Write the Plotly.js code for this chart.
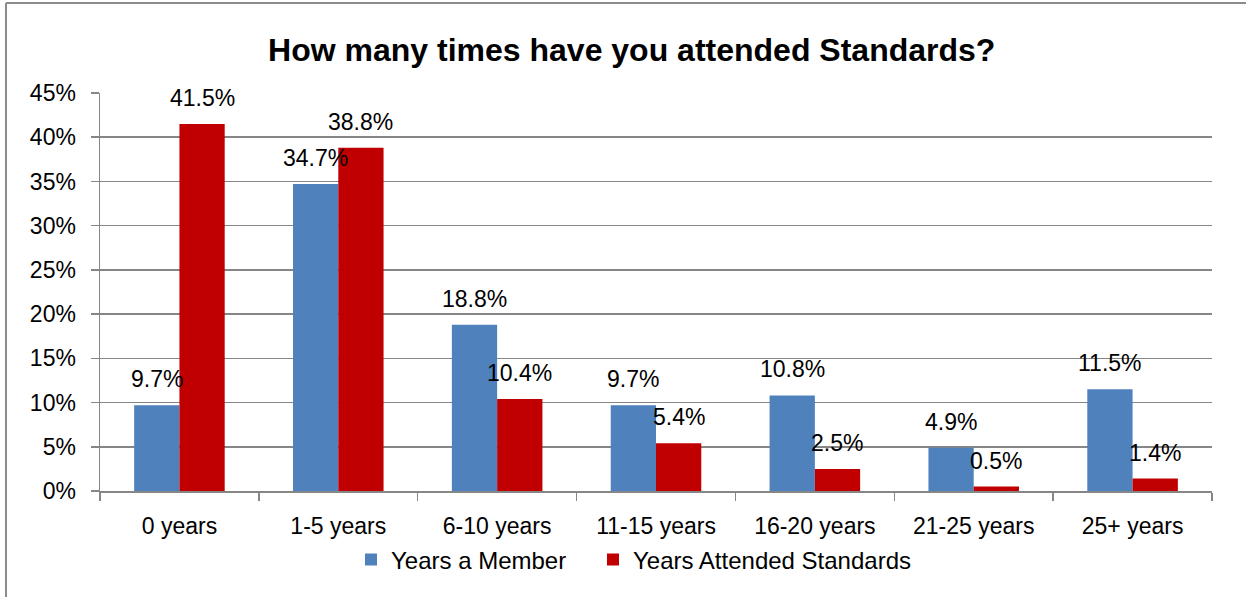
<!DOCTYPE html>
<html>
<head>
<meta charset="utf-8">
<script src="https://cdn.plot.ly/plotly-3.0.1.min.js"></script>
<style>html,body{margin:0;padding:0;background:#fff;}#chart{width:1246px;height:597px;}</style>
</head>
<body>
<div id="chart"></div>
<script>
var categories = ['0 years','1-5 years','6-10 years','11-15 years','16-20 years','21-25 years','25+ years'];
var yearsMember = [9.7, 34.7, 18.8, 9.7, 10.8, 4.9, 11.5];
var yearsAttended = [41.5, 38.8, 10.4, 5.4, 2.5, 0.5, 1.4];
var seriesNames = ['Years a Member', 'Years Attended Standards'];
var yTickVals = [0,5,10,15,20,25,30,35,40,45];

var FONT = 'Liberation Sans, Arial, sans-serif';
var W = 1246, H = 597, L = 100, R = 34, T = 93, B = 106;
var pw = W - L - R, ph = H - T - B;
function px(x){ return (x - L) / pw; }
function py(y){ return (H - B - y) / ph; }

var traces = [
  {type:'bar', name: seriesNames[0], x: categories, y: yearsMember, marker:{color:'#4F81BD'}, hoverinfo:'none', legend:'legend'},
  {type:'bar', name: seriesNames[1], x: categories, y: yearsAttended, marker:{color:'#C00000'}, hoverinfo:'none', legend:'legend2'}
];

var annotations = [];
var half = pw / categories.length * 0.57 / 4;
[yearsMember, yearsAttended].forEach(function(arr, si){
  arr.forEach(function(v, i){
    annotations.push({
      x: categories[i], y: v, xref:'x', yref:'y',
      text: v.toFixed(1) + '%', showarrow:false,
      xshift: si === 0 ? -half : half, yshift: 26,
      yanchor:'middle', xanchor:'center',
      font:{family:FONT, size:23, color:'#000'}
    });
  });
});

function legendAt(xpix){
  return {orientation:'h', x:px(xpix), xanchor:'left', y:py(560), yanchor:'middle', font:{family:FONT, size:24, color:'#000'}, itemwidth:30, itemclick:false, bgcolor:'rgba(0,0,0,0)'};
}

var layout = {
  width: W, height: H,
  margin: {l:L, r:R, t:T, b:B, pad:0},
  paper_bgcolor:'#fff', plot_bgcolor:'#fff',
  title: {text:'<b>How many times have you attended Standards?</b>', font:{family:FONT, size:32, color:'#000'}, x:0.507, xanchor:'center', y:1 - 50/H, yanchor:'middle'},
  barmode:'group', bargap:0.43, bargroupgap:0,
  showlegend:true,
  legend: legendAt(351),
  legend2: legendAt(593),
  xaxis:{type:'category', showgrid:false, showline:true, linecolor:'#868686', linewidth:1.5,
         ticks:'outside', ticklen:8, tickcolor:'#868686', tickwidth:1.5, tickson:'boundaries',
         tickfont:{family:FONT, size:23, color:'#000'}, ticklabelstandoff:14, fixedrange:true},
  yaxis:{range:[0,45], tickvals:yTickVals, ticktext:yTickVals.map(function(v){return v+'%';}),
         showgrid:true, gridcolor:'#868686', gridwidth:1.5, zeroline:false,
         showline:true, linecolor:'#868686', linewidth:1.5, ticks:'outside', ticklen:8, tickcolor:'#868686', tickwidth:1.5,
         tickfont:{family:FONT, size:23, color:'#000'}, ticklabelstandoff:10, fixedrange:true},
  annotations: annotations,
  shapes:[
    {type:'line', xref:'paper', yref:'paper', x0:px(6), x1:px(1246), y0:py(3), y1:py(3), line:{color:'#8c8c8c', width:2}},
    {type:'line', xref:'paper', yref:'paper', x0:px(6), x1:px(6), y0:py(3), y1:py(597), line:{color:'#8c8c8c', width:2}}
  ]
};

Plotly.newPlot('chart', traces, layout, {displayModeBar:false, staticPlot:true});
</script>
</body>
</html>
